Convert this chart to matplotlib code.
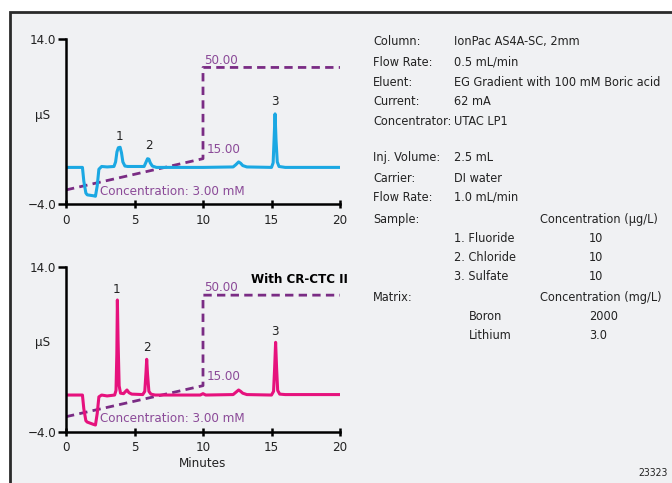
import matplotlib
matplotlib.use("Agg")
import matplotlib.pyplot as plt
from matplotlib import font_manager
from matplotlib.patches import Rectangle

# the reference uses a condensed grotesque; take a narrow face if one is installed
narrow = None
for f in font_manager.fontManager.ttflist:
    if ('Narrow' in f.name or 'Condensed' in f.name or f.stretch in ('condensed', 'semi-condensed')) \
            and 'Mono' not in f.name and 'Serif' not in f.name:
        narrow = f
        break
if narrow is not None:
    FAMILY = [narrow.name, 'DejaVu Sans']
    STRETCH = narrow.stretch
    FS = 9.5
else:
    FAMILY = ['Roboto', 'DejaVu Sans']
    STRETCH = 'normal'
    FS = 9
FS_INFO = FS - 0.4
plt.rcParams['font.family'] = FAMILY
plt.rcParams['font.stretch'] = STRETCH
plt.rcParams['axes.unicode_minus'] = True

# chromatogram without CR-CTC (time in min, signal in uS)
top_t = [0, 1.2, 1.3, 1.45, 1.55, 2.0, 2.15, 2.28, 2.4, 2.6, 3.0, 3.5, 3.62, 3.72, 3.82, 3.95, 4.05, 4.15, 4.3, 4.5,
         5.7, 5.82, 5.95, 6.05, 6.15, 6.3, 6.6, 8.0, 10.0, 12.2, 12.4, 12.6, 12.75, 12.9, 13.2,
         15.0, 15.12, 15.2, 15.26, 15.33, 15.42, 15.55, 16.0, 20.0]
top_v = [0, 0, -1.5, -2.8, -3.0, -3.1, -3.15, -2.0, -0.2, 0.1, 0.05, 0.1, 0.6, 1.7, 2.15, 2.2, 1.6, 0.6, 0.15, 0.1,
         0.1, 0.5, 0.95, 0.9, 0.5, 0.15, 0.0, 0.0, 0.0, 0.05, 0.3, 0.6, 0.45, 0.2, 0.05,
         0.0, 0.5, 3.5, 5.85, 3.0, 0.6, 0.1, 0.0, 0.0]

# chromatogram with CR-CTC II
bot_t = [0, 1.2, 1.3, 1.45, 1.55, 2.0, 2.15, 2.28, 2.4, 2.6, 3.0, 3.55, 3.65, 3.71, 3.75, 3.8, 3.88, 3.98, 4.2, 4.35,
         4.45, 4.6, 4.8, 5.6, 5.75, 5.84, 5.89, 5.95, 6.05, 6.2, 6.5, 9.8, 10.0, 10.2,
         12.2, 12.4, 12.6, 12.75, 12.9, 13.2, 15.0, 15.15, 15.23, 15.3, 15.37, 15.45, 15.6, 16.0, 20.0]
bot_v = [0, 0, -1.5, -2.8, -2.95, -3.2, -3.27, -2.0, -0.2, 0.0, -0.1, 0.0, 0.5, 4.5, 10.37, 6.0, 1.0, 0.2, 0.15, 0.4,
         0.55, 0.25, 0.1, 0.05, 0.4, 2.5, 3.9, 2.3, 0.4, 0.1, 0.0, 0.0, 0.15, 0.0,
         0.05, 0.3, 0.55, 0.4, 0.2, 0.05, 0.0, 0.4, 3.0, 5.75, 3.0, 0.5, 0.1, 0.05, 0.05]

# eluent gradient (mM)
grad_t = [0, 10, 10, 20]
grad_c = [3.0, 15.0, 50.0, 50.0]

# peak labels
peak_names = ['1', '2', '3']
top_peak_xy = [(3.94, 3.36), (6.06, 2.34), (15.26, 7.18)]
bot_peak_xy = [(3.7, 11.46), (5.89, 5.2), (15.26, 6.98)]

# conditions text
cond_labels = ['Column:', 'Flow Rate:', 'Eluent:', 'Current:', 'Concentrator:',
               'Inj. Volume:', 'Carrier:', 'Flow Rate:', 'Sample:']
cond_values = ['IonPac AS4A-SC, 2mm', '0.5 mL/min', 'EG Gradient with 100 mM Boric acid', '62 mA', 'UTAC LP1',
               '2.5 mL', 'DI water', '1.0 mL/min', '']
cond_rows = [41.7, 62.0, 82.0, 101.7, 121.3, 157.3, 178.0, 197.5, 219.0]
analytes = ['1. Fluoride', '2. Chloride', '3. Sulfate']
analyte_conc = ['10', '10', '10']
matrix = ['Boron', 'Lithium']
matrix_conc = ['2000', '3.0']

W, H = 672, 483
BLUE = '#1ba8e3'
PINK = '#e6127d'
DASH = '#7a2c84'
PURP = '#8b4a98'
BG = '#f0f1f3'
INK = '#222222'

fig = plt.figure(figsize=(W / 100, H / 100), dpi=100, facecolor='white')
fig.patches.append(Rectangle((9.5 / W, -0.05), 1.2, 1 - 11.5 / H + 0.05, transform=fig.transFigure,
                             facecolor=BG, edgecolor='#2a2a2a', lw=2, zorder=-5))


def fx(px):
    return px / W


def fy(py):
    return 1 - py / H


def chrom(top_px, bot_px, t, v, color, glim, peak_xy, xlabel):
    ax = fig.add_axes([fx(66), fy(bot_px), fx(340) - fx(66), fy(top_px) - fy(bot_px)])
    ax.set_facecolor('none')
    ax2 = ax.twinx()
    ax2.set_ylim(*glim)
    ax2.axis('off')
    ax2.plot(grad_t, grad_c, color=DASH, lw=2.0, dashes=(3, 1.9), solid_capstyle='butt')
    ax2.text(10.1, 50.3, '50.00', color=PURP, fontsize=FS, ha='left', va='bottom')
    ax2.text(10.25, 16.0, '15.00', color=PURP, fontsize=FS, ha='left', va='bottom')
    ax.set_zorder(ax2.get_zorder() + 1)
    ax.plot(t, v, color=color, lw=2.2, solid_joinstyle='round')
    ax.text(2.5, -2.6, 'Concentration: 3.00 mM', color=PURP, fontsize=FS, ha='left', va='center')
    for name, (px, py) in zip(peak_names, peak_xy):
        ax.text(px, py, name, fontsize=FS, ha='center', va='center', color=INK)
    ax.set_xlim(0, 20)
    ax.set_ylim(-4, 14)
    ax.set_xticks([0, 5, 10, 15, 20])
    ax.set_yticks([-4, 14])
    ax.set_yticklabels(['\u22124.0', '14.0'])
    for s in ['top', 'right']:
        ax.spines[s].set_visible(False)
    for s in ['left', 'bottom']:
        ax.spines[s].set_linewidth(1.8)
    ax.tick_params(axis='y', direction='out', length=6, width=1.8, labelsize=FS, pad=1, labelcolor=INK)
    ax.tick_params(axis='x', direction='inout', length=6, width=1.8, labelsize=FS, pad=4, labelcolor=INK)
    ax.set_ylabel('\u00b5S', fontsize=FS, rotation=0, labelpad=0, color=INK)
    ax.yaxis.set_label_coords(-0.085, 0.5)
    if xlabel:
        ax.set_xlabel('Minutes', fontsize=FS, labelpad=2, color=INK)
    return ax


chrom(39.3, 204.0, top_t, top_v, BLUE, (-2.4, 60.8), top_peak_xy, False)
chrom(266.7, 431.7, bot_t, bot_v, PINK, (-2.8, 61.0), bot_peak_xy, True)
fig.text(fx(348), fy(279.3), 'With CR-CTC II', fontsize=FS, fontweight='bold', ha='right', va='center')

for lab, val, row in zip(cond_labels, cond_values, cond_rows):
    fig.text(fx(373), fy(row), lab, fontsize=FS_INFO, va='center', color=INK)
    fig.text(fx(454), fy(row), val, fontsize=FS_INFO, va='center', color=INK)
fig.text(fx(540), fy(219.0), 'Concentration (\u00b5g/L)', fontsize=FS_INFO, va='center', color=INK)
for i, (a, c) in enumerate(zip(analytes, analyte_conc)):
    fig.text(fx(454), fy(238.3 + 19.2 * i), a, fontsize=FS_INFO, va='center', color=INK)
    fig.text(fx(589), fy(238.3 + 19.2 * i), c, fontsize=FS_INFO, va='center', color=INK)
fig.text(fx(373), fy(297.3), 'Matrix:', fontsize=FS_INFO, va='center', color=INK)
fig.text(fx(540), fy(297.3), 'Concentration (mg/L)', fontsize=FS_INFO, va='center', color=INK)
for i, (m, c) in enumerate(zip(matrix, matrix_conc)):
    fig.text(fx(469), fy(316.3 + 19.0 * i), m, fontsize=FS_INFO, va='center', color=INK)
    fig.text(fx(589), fy(316.3 + 19.0 * i), c, fontsize=FS_INFO, va='center', color=INK)
fig.text(fx(668), fy(473), '23323', fontsize=FS - 2, ha='right', va='center', color=INK)

fig.savefig('out.png', dpi=100)
